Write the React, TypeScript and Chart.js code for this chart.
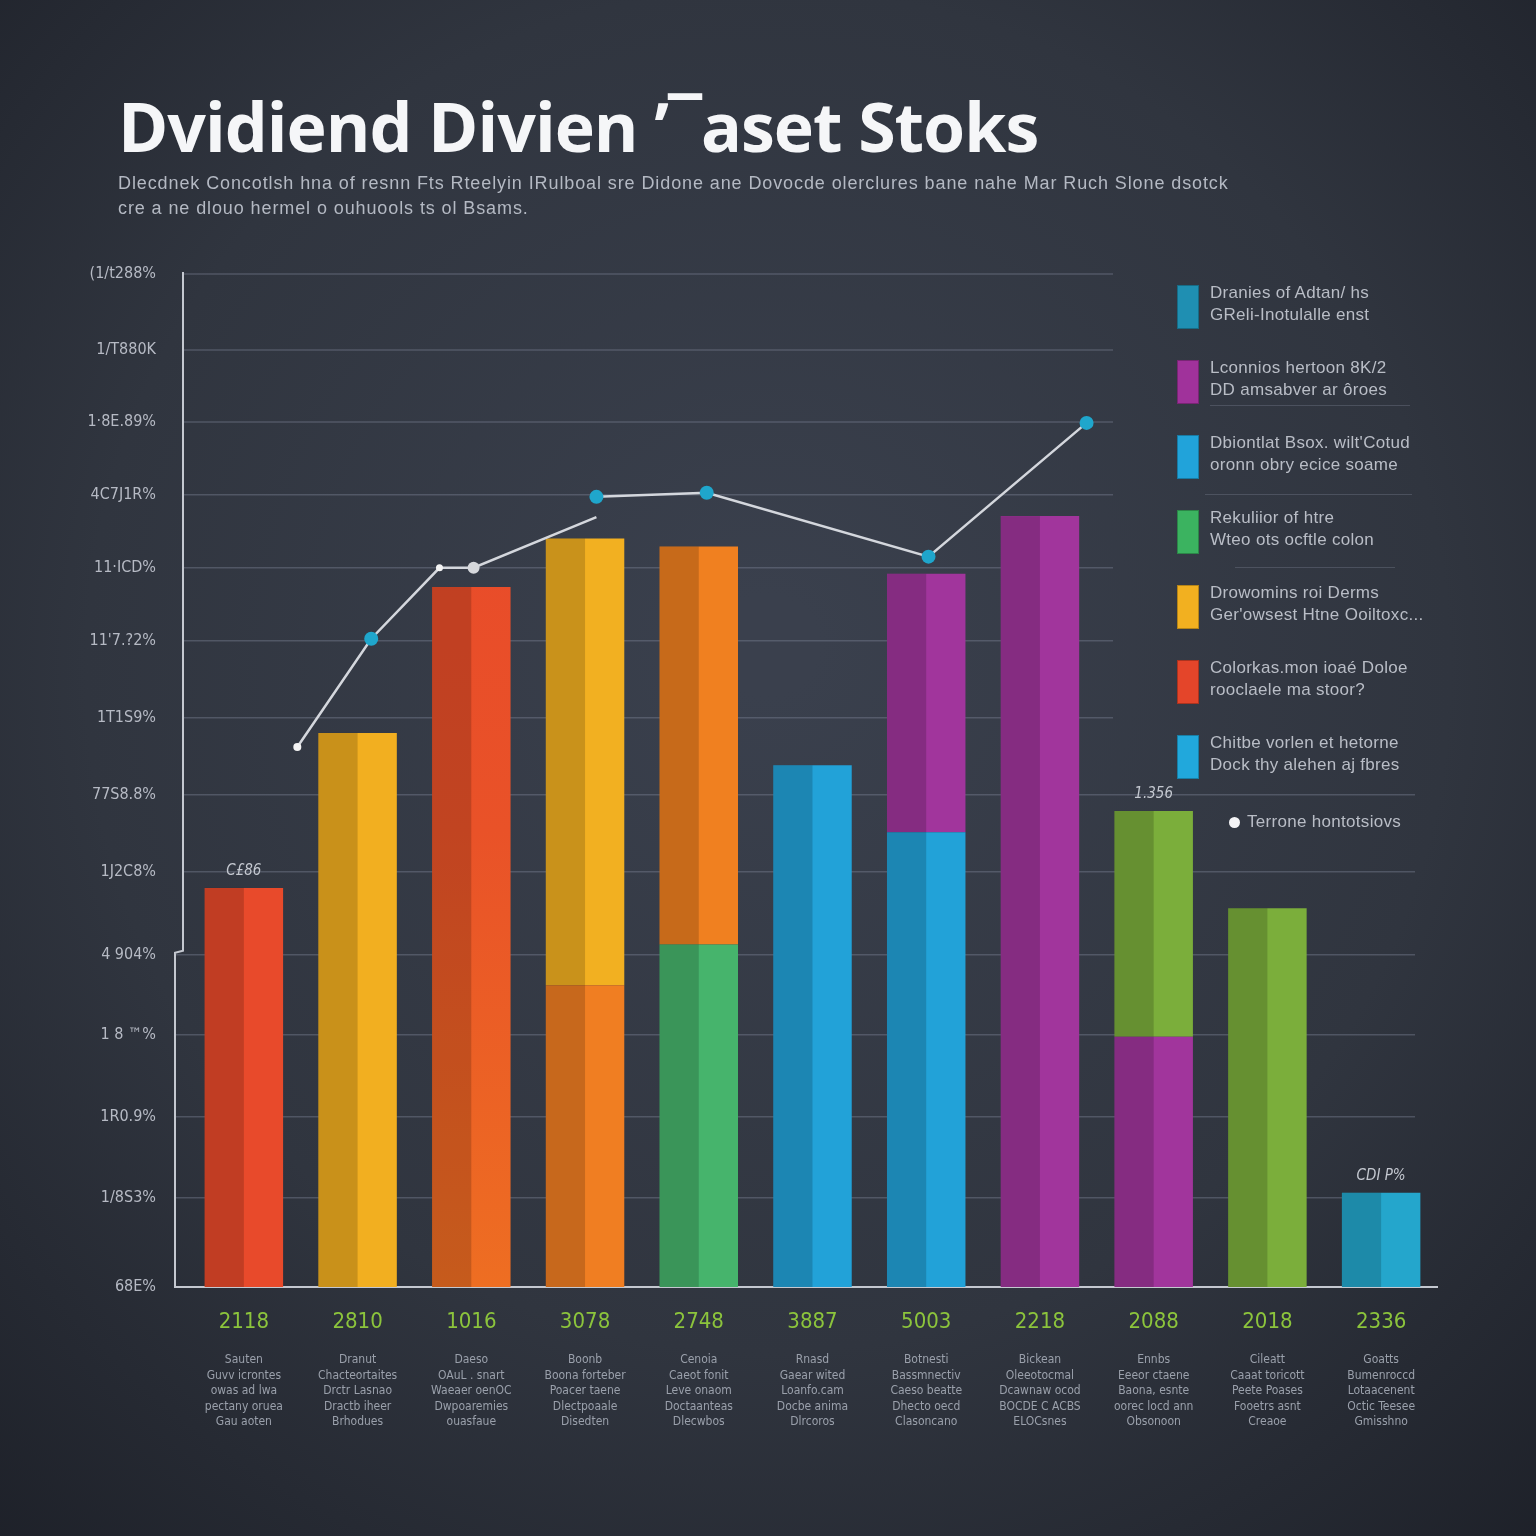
import React, { useEffect, useRef } from "react";
import { Chart, registerables } from "chart.js";

Chart.register(...registerables);

// ---------- data ----------
const xLabels = ["2118", "2810", "1016", "3078", "2748", "3887", "5003", "2218", "2088", "2018", "2336"];

const xSubLabels = [
  ["Sauten", "Guvv icrontes", "owas ad lwa", "pectany oruea", "Gau aoten"],
  ["Dranut", "Chacteortaites", "Drctr Lasnao", "Dractb iheer", "Brhodues"],
  ["Daeso", "OAuL . snart", "Waeaer oenOC", "Dwpoaremies", "ouasfaue"],
  ["Boonb", "Boona forteber", "Poacer taene", "Dlectpoaale", "Disedten"],
  ["Cenoia", "Caeot fonit", "Leve onaom", "Doctaanteas", "Dlecwbos"],
  ["Rnasd", "Gaear wited", "Loanfo.cam", "Docbe anima", "Dlrcoros"],
  ["Botnesti", "Bassmnectiv", "Caeso beatte", "Dhecto oecd", "Clasoncano"],
  ["Bickean", "Oleeotocmal", "Dcawnaw ocod", "BOCDE C ACBS", "ELOCsnes"],
  ["Ennbs", "Eeeor ctaene", "Baona, esnte", "oorec locd ann", "Obsonoon"],
  ["Cileatt", "Caaat toricott", "Peete Poases", "Fooetrs asnt", "Creaoe"],
  ["Goatts", "Bumenroccd", "Lotaacenent", "Octic Teesee", "Gmisshno"],
];

const bottomValues = [39.4, 54.7, 69.1, 29.8, 33.8, 51.5, 44.9, 76.1, 24.7, 37.4, 9.3];
const topValues = [null, null, null, 44.1, 39.3, null, 25.5, null, 22.3, null, null];

const bottomColors = ["#e84a2b", "#f2af20", "GRADIENT", "#f07e22", "#46b46c", "#22a2d8", "#22a2d8", "#a1359c", "#a1359c", "#7bae3b", "#24a6cc"];
const topColors = ["#e84a2b", "#f2af20", "#e8482a", "#f2b021", "#f08020", "#22a2d8", "#a1359c", "#a1359c", "#7bae3b", "#7bae3b", "#24a6cc"];

const barNotes = ["C£86", "", "", "", "", "", "", "", "1.356", "", "CDI P%"];

const yTickValues = [0, 8.8, 16.8, 24.9, 32.8, 41.0, 48.6, 56.2, 63.8, 71.0, 78.2, 85.4, 92.5, 100];
const yTickLabels = ["68E%", "1/8S3%", "1R0.9%", "1 8 ™%", "4 904%", "1J2C8%", "77S8.8%", "1T1S9%", "11'7.?2%", "11·ICD%", "4C7J1R%", "1·8E.89%", "1/T880K", "(1/t288%"];

const trendX = [0.47, 1.12, 1.72, 2.02, 3.1, 3.1, 3.1, 4.07, 6.02, 7.41];
const trendY = [53.3, 64.0, 71.0, 71.0, 76.0, null, 78.0, 78.4, 72.1, 85.3];
const trendRadius = [4, 7, 3.5, 6, 0, 0, 7, 7, 7, 7];
const trendColors = ["#f4f4f4", "#1fa6cc", "#f4f4f4", "#d6d8dc", "#d6d8dc", "#d6d8dc", "#1fa6cc", "#1fa6cc", "#1fa6cc", "#1fa6cc"];

const legendItems = [
  { color: "#1f8fb2", lines: ["Dranies of Adtan/ hs", "GReli-Inotulalle enst"] },
  { color: "#a0329b", lines: ["Lconnios hertoon 8K/2", "DD amsabver ar ôroes"] },
  { color: "#21a3da", lines: ["Dbiontlat Bsox. wilt'Cotud", "oronn obry ecice soame"] },
  { color: "#3bb360", lines: ["Rekuliior of htre", "Wteo ots ocftle colon"] },
  { color: "#f2b020", lines: ["Drowomins roi Derms", "Ger'owsest Htne Ooiltoxc..."] },
  { color: "#e4452a", lines: ["Colorkas.mon ioaé Doloe", "rooclaele ma stoor?"] },
  { color: "#21a8dc", lines: ["Chitbe vorlen et hetorne", "Dock thy alehen aj fbres"] },
];
const trendLegend = "Terrone hontotsiovs";

const titleText = "Dvidiend Divien ’¯aset Stoks";
const subtitleLines = [
  "Dlecdnek Concotlsh hna of resnn Fts Rteelyin IRulboal sre Didone ane Dovocde olerclures bane nahe Mar Ruch Slone dsotck",
  "cre a ne dlouo hermel o ouhuools ts ol Bsams.",
];

// ---------- plugins ----------
const backgroundPlugin = {
  id: "bgPaint",
  beforeDraw(chart: any) {
    const { ctx, width, height } = chart;
    ctx.save();
    const g = ctx.createRadialGradient(width * 0.5, height * 0.42, 50, width * 0.5, height * 0.45, width * 0.78);
    g.addColorStop(0, "#3a404d");
    g.addColorStop(0.55, "#30353f");
    g.addColorStop(1, "#1c1f27");
    ctx.fillStyle = g;
    ctx.fillRect(0, 0, width, height);
    ctx.restore();
  },
};

const gridPlugin = {
  id: "customGrid",
  beforeDatasetsDraw(chart: any) {
    const { ctx, chartArea } = chart;
    const y = chart.scales.y;
    ctx.save();
    ctx.strokeStyle = "rgba(125,132,150,0.42)";
    ctx.lineWidth = 1.5;
    y.ticks.forEach((t: any) => {
      if (t.value <= 0) return;
      const py = y.getPixelForValue(t.value);
      const xEnd = t.value > 50 ? chartArea.right - 325 : chartArea.right - 23;
      const xStart = t.value > 32.9 ? chartArea.left - 4 : chartArea.left - 12;
      ctx.beginPath();
      ctx.moveTo(xStart, py);
      ctx.lineTo(xEnd, py);
      ctx.stroke();
    });
    // axis lines
    const stepY = y.getPixelForValue(32.8);
    ctx.strokeStyle = "#c4c8d0";
    ctx.lineWidth = 2;
    ctx.beginPath();
    ctx.moveTo(chartArea.left - 4, chartArea.top - 2);
    ctx.lineTo(chartArea.left - 4, stepY - 4);
    ctx.lineTo(chartArea.left - 12, stepY - 2);
    ctx.lineTo(chartArea.left - 12, chartArea.bottom);
    ctx.lineTo(chartArea.right, chartArea.bottom);
    ctx.stroke();
    ctx.restore();
  },
};

const shadePlugin = {
  id: "barShade",
  afterDatasetDraw(chart: any, args: any) {
    const meta = args.meta;
    if (meta.type !== "bar") return;
    const { ctx } = chart;
    ctx.save();
    ctx.fillStyle = "rgba(0,0,0,0.17)";
    meta.data.forEach((el: any, i: number) => {
      const raw = chart.data.datasets[args.index].data[i];
      if (raw === null || raw === undefined) return;
      const top = Math.min(el.y, el.base);
      const h = Math.abs(el.base - el.y);
      ctx.fillRect(el.x - el.width / 2, top, el.width / 2, h);
    });
    ctx.restore();
  },
  afterDatasetsDraw(chart: any) {
    const { ctx } = chart;
    const m0 = chart.getDatasetMeta(0);
    const m1 = chart.getDatasetMeta(1);
    ctx.save();
    ctx.fillStyle = "#c4c8d0";
    ctx.font = "italic 15px 'Liberation Sans Narrow', 'DejaVu Sans Condensed', sans-serif";
    ctx.textAlign = "center";
    ctx.textBaseline = "middle";
    barNotes.forEach((note, i) => {
      if (!note) return;
      const el = topValues[i] != null ? m1.data[i] : m0.data[i];
      ctx.fillText(note, el.x, el.y - 17);
    });
    ctx.restore();
  },
};

export default function App() {
  const canvasRef = useRef<HTMLCanvasElement | null>(null);

  useEffect(() => {
    if (!canvasRef.current) return;
    const chart = new Chart(canvasRef.current, {
      type: "bar",
      data: {
        labels: xLabels,
        datasets: [
          {
            type: "bar",
            label: "lower",
            data: bottomValues,
            backgroundColor: (c: any) => {
              const col = bottomColors[c.dataIndex];
              if (col === "GRADIENT") {
                const area = c.chart.chartArea;
                if (!area) return "#e8482a";
                const g = c.chart.ctx.createLinearGradient(0, area.top, 0, area.bottom);
                g.addColorStop(0, "#e8462b");
                g.addColorStop(0.55, "#e95228");
                g.addColorStop(1, "#ee6e22");
                return g;
              }
              return col;
            },
            barPercentage: 0.69,
            categoryPercentage: 1,
            grouped: false,
            stack: "s",
            order: 1,
            xAxisID: "x",
            yAxisID: "y",
          },
          {
            type: "bar",
            label: "upper",
            data: topValues,
            backgroundColor: topColors,
            barPercentage: 0.69,
            categoryPercentage: 1,
            grouped: false,
            stack: "s",
            order: 1,
            xAxisID: "x",
            yAxisID: "y",
          },
          {
            type: "line",
            label: "trend",
            data: trendX.map((x, i) => ({ x, y: trendY[i] })),
            xAxisID: "xl",
            yAxisID: "y",
            borderColor: "#d4d7dd",
            borderWidth: 2.5,
            pointRadius: trendRadius,
            pointBackgroundColor: trendColors,
            pointBorderColor: trendColors,
            pointBorderWidth: 0,
            spanGaps: false,
            tension: 0,
            order: 0,
          } as any,
        ],
      },
      options: {
        responsive: false,
        animation: false,
        layout: { padding: { top: 274, right: 98, bottom: 0, left: 0 } },
        plugins: {
          legend: { display: false },
          tooltip: { enabled: false },
          title: { display: false },
        },
        scales: {
          x: {
            type: "category",
            position: "bottom",
            stacked: true,
            offset: true,
            grid: { display: false, drawTicks: false },
            border: { display: false },
            ticks: {
              color: "#8cc43c",
              font: { family: "'Liberation Sans Narrow', 'DejaVu Sans Condensed', sans-serif", size: 22 },
              padding: 22,
              maxRotation: 0,
              autoSkip: false,
            },
            afterFit: (s: any) => { s.height = 63; },
          },
          x2: {
            type: "category",
            position: "bottom",
            labels: xSubLabels as any,
            offset: true,
            grid: { display: false, drawTicks: false },
            border: { display: false },
            ticks: {
              color: "#9aa0ab",
              font: { family: "'Liberation Sans Narrow', 'DejaVu Sans Condensed', sans-serif", size: 12, lineHeight: 1.3 },
              padding: 2,
              maxRotation: 0,
              autoSkip: false,
            },
            afterFit: (s: any) => { s.height = 186; },
          },
          xl: {
            type: "linear",
            display: false,
            offset: false,
            grid: { offset: false },
            min: -0.5,
            max: 10.5,
          },
          y: {
            type: "linear",
            stacked: true,
            min: 0,
            max: 100,
            grid: { display: false, drawTicks: false },
            border: { display: false },
            afterBuildTicks: (s: any) => {
              s.ticks = yTickValues.map((v) => ({ value: v }));
            },
            ticks: {
              color: "#b6bac4",
              font: { family: "'Liberation Sans Narrow', 'DejaVu Sans Condensed', sans-serif", size: 16 },
              padding: 31,
              callback: (_v: any, i: number) => yTickLabels[i],
            },
            afterFit: (s: any) => { s.width = 187; },
          },
        },
      },
      plugins: [backgroundPlugin, gridPlugin, shadePlugin],
    });
    return () => chart.destroy();
  }, []);

  const legendTop = 285;
  const legendStep = 75;

  return (
    <div style={{ position: "fixed", left: 0, top: 0, width: 1536, height: 1536, overflow: "hidden" }}>
      <canvas ref={canvasRef} width={1536} height={1536} style={{ position: "absolute", left: 0, top: 0, width: 1536, height: 1536 }} />
      <div
        style={{
          position: "absolute", left: 118, top: 92, font: "700 68px 'Open Sans', sans-serif", lineHeight: "68px",
          color: "#f5f6f8", letterSpacing: "-1px", whiteSpace: "nowrap",
        }}
      >
        {titleText}
      </div>
      <div
        style={{
          position: "absolute", left: 118, top: 171, font: "18px 'Liberation Sans', sans-serif", lineHeight: "25px",
          color: "#b4b9c3", whiteSpace: "nowrap", letterSpacing: "0.9px",
        }}
      >
        {subtitleLines.map((l, i) => (<div key={i}>{l}</div>))}
      </div>
      {legendItems.map((it, i) => (
        <div key={i} style={{ position: "absolute", left: 1177, top: legendTop + i * legendStep }}>
          <div style={{ position: "absolute", left: 0, top: 0, width: 22, height: 44, background: it.color, boxShadow: "inset 0 0 0 1px rgba(0,0,0,0.25)" }} />
          <div
            style={{
              position: "absolute", left: 33, top: -3, font: "17px 'Liberation Sans', sans-serif", lineHeight: "22px",
              color: "#b9bdc6", whiteSpace: "nowrap", letterSpacing: "0.3px",
            }}
          >
            {it.lines.map((l, j) => (<div key={j}>{l}</div>))}
          </div>
        </div>
      ))}
      {[{ t: 405, l: 1210, w: 200 }, { t: 494, l: 1205, w: 207 }, { t: 567, l: 1235, w: 160 }].map((s, i) => (
        <div key={"sep" + i} style={{ position: "absolute", left: s.l, top: s.t, width: s.w, height: 1, background: "rgba(125,132,150,0.35)" }} />
      ))}
      <div style={{ position: "absolute", left: 1229, top: 817, width: 11, height: 11, borderRadius: 6, background: "#f4f4f6" }} />
      <div
        style={{
          position: "absolute", left: 1247, top: 811, font: "17px 'Liberation Sans', sans-serif", lineHeight: "22px",
          color: "#b9bdc6", whiteSpace: "nowrap", letterSpacing: "0.3px",
        }}
      >
        {trendLegend}
      </div>
    </div>
  );
}
